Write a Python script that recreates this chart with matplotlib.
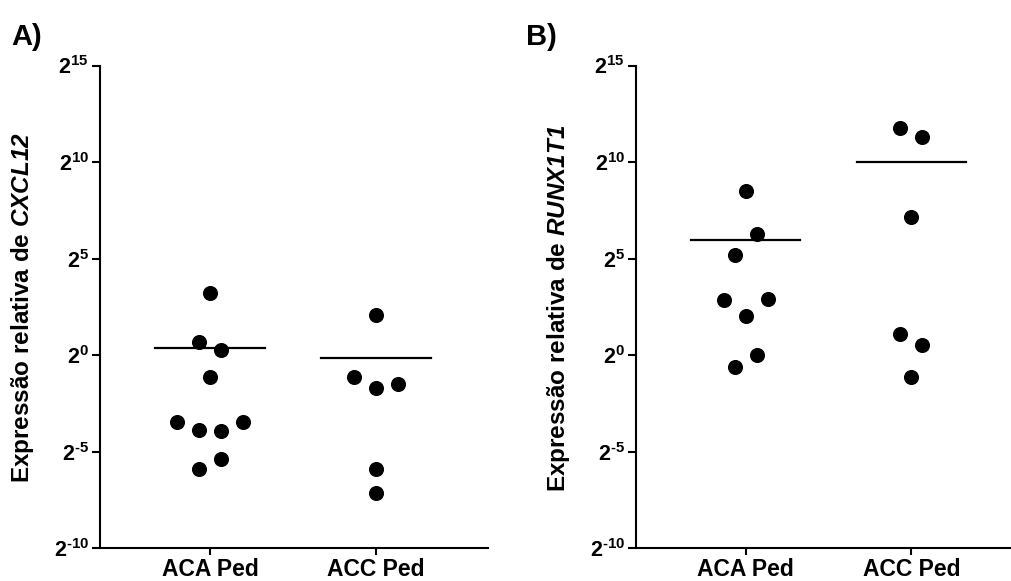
import numpy as np
import matplotlib
matplotlib.use("Agg")
import matplotlib.pyplot as plt

plt.rcParams['font.family'] = ['Liberation Sans', 'DejaVu Sans']
plt.rcParams['font.weight'] = 'bold'
plt.rcParams['mathtext.fontset'] = 'custom'
plt.rcParams['mathtext.rm'] = 'Liberation Sans:bold'
plt.rcParams['mathtext.bf'] = 'Liberation Sans:bold'
plt.rcParams['mathtext.it'] = 'Liberation Sans:italic:bold'
plt.rcParams['mathtext.sf'] = 'Liberation Sans:italic:bold'
plt.rcParams['mathtext.default'] = 'rm'

# ---- data (log2 relative expression) ----
categories = ["ACA Ped", "ACC Ped"]
cxcl12_aca = [3.24, 0.69, 0.26, -1.15, -3.45, -3.88, -3.93, -3.45, -5.9, -5.4]
cxcl12_acc = [2.07, -1.15, -1.72, -1.47, -5.9, -7.15]
runx1t1_aca = [8.5, 5.17, 6.26, 2.85, 2.02, 2.90, -0.6, 0.0]
runx1t1_acc = [11.76, 11.29, 7.16, 1.12, 0.55, -1.12]
ytick_exponents = [-10, -5, 0, 5, 10, 15]
panel_labels = ["A)", "B)"]
genes = ["CXCL12", "RUNX1T1"]


def swarm_offsets(exps, thresh=1.17, step=0.1325):
    exps = list(exps)
    n = len(exps)
    order = sorted(range(n), key=lambda i: -exps[i])
    rows, cur = [], [order[0]]
    for i in order[1:]:
        if exps[cur[-1]] - exps[i] < thresh:
            cur.append(i)
        else:
            rows.append(cur)
            cur = [i]
    rows.append(cur)
    offs = np.zeros(n)
    for row in rows:
        row = sorted(row)
        k = len(row)
        for j, i in enumerate(row):
            offs[i] = (j - (k - 1) / 2) * step
    return offs


W, H = 1012, 581
fig = plt.figure(figsize=(W / 100, H / 100), dpi=100)

ybot_px, ytop_px = 548.3, 65.5
panels = [
    dict(left=100, right=488, groups=[cxcl12_aca, cxcl12_acc], gene=genes[0],
         label=panel_labels[0], label_xy=(11, 45), ylab_x=23),
    dict(left=636, right=1023, groups=[runx1t1_aca, runx1t1_acc], gene=genes[1],
         label=panel_labels[1], label_xy=(526, 45), ylab_x=559),
]

for p in panels:
    ax = fig.add_axes([p['left'] / W, 1 - ybot_px / H,
                       (p['right'] - p['left']) / W, (ybot_px - ytop_px) / H])
    ax.set_yscale('log', base=2)
    ax.set_ylim(2.0 ** ytick_exponents[0], 2.0 ** ytick_exponents[-1])
    ax.set_xlim(-0.663, 1.675)
    for ci, vals in enumerate(p['groups']):
        e = np.array(vals)
        xs = ci + swarm_offsets(e)
        ax.scatter(xs, 2.0 ** e, s=118, color='black', zorder=3, linewidths=0)
        mean = np.mean(2.0 ** e)
        ax.plot([ci - 0.33, ci + 0.33], [mean, mean], color='black', lw=1.6)
    ax.set_yticks([2.0 ** k for k in ytick_exponents])
    ax.set_yticklabels([r'$2^{\text{%d}}$' % k for k in ytick_exponents])
    ax.yaxis.set_minor_locator(matplotlib.ticker.NullLocator())
    ax.set_xticks(range(len(categories)))
    ax.set_xticklabels(categories, fontsize=16.5, fontweight='bold')
    for s in ['top', 'right']:
        ax.spines[s].set_visible(False)
    for s in ['left', 'bottom']:
        ax.spines[s].set_linewidth(1.5)
    ax.tick_params(axis='y', length=6, width=1.5, labelsize=15.5, pad=2)
    ax.tick_params(axis='x', length=5, width=1.5, pad=2)
    fig.text(p['ylab_x'] / W, 1 - 308 / H,
             r'Expressão relativa de $\mathsf{%s}$' % p['gene'],
             rotation=90, ha='center', va='center', fontsize=17.5, fontweight='bold')
    fig.text(p['label_xy'][0] / W, 1 - p['label_xy'][1] / H, p['label'],
             fontsize=21, fontweight='bold', ha='left', va='baseline')

fig.savefig('out.png', dpi=100)
